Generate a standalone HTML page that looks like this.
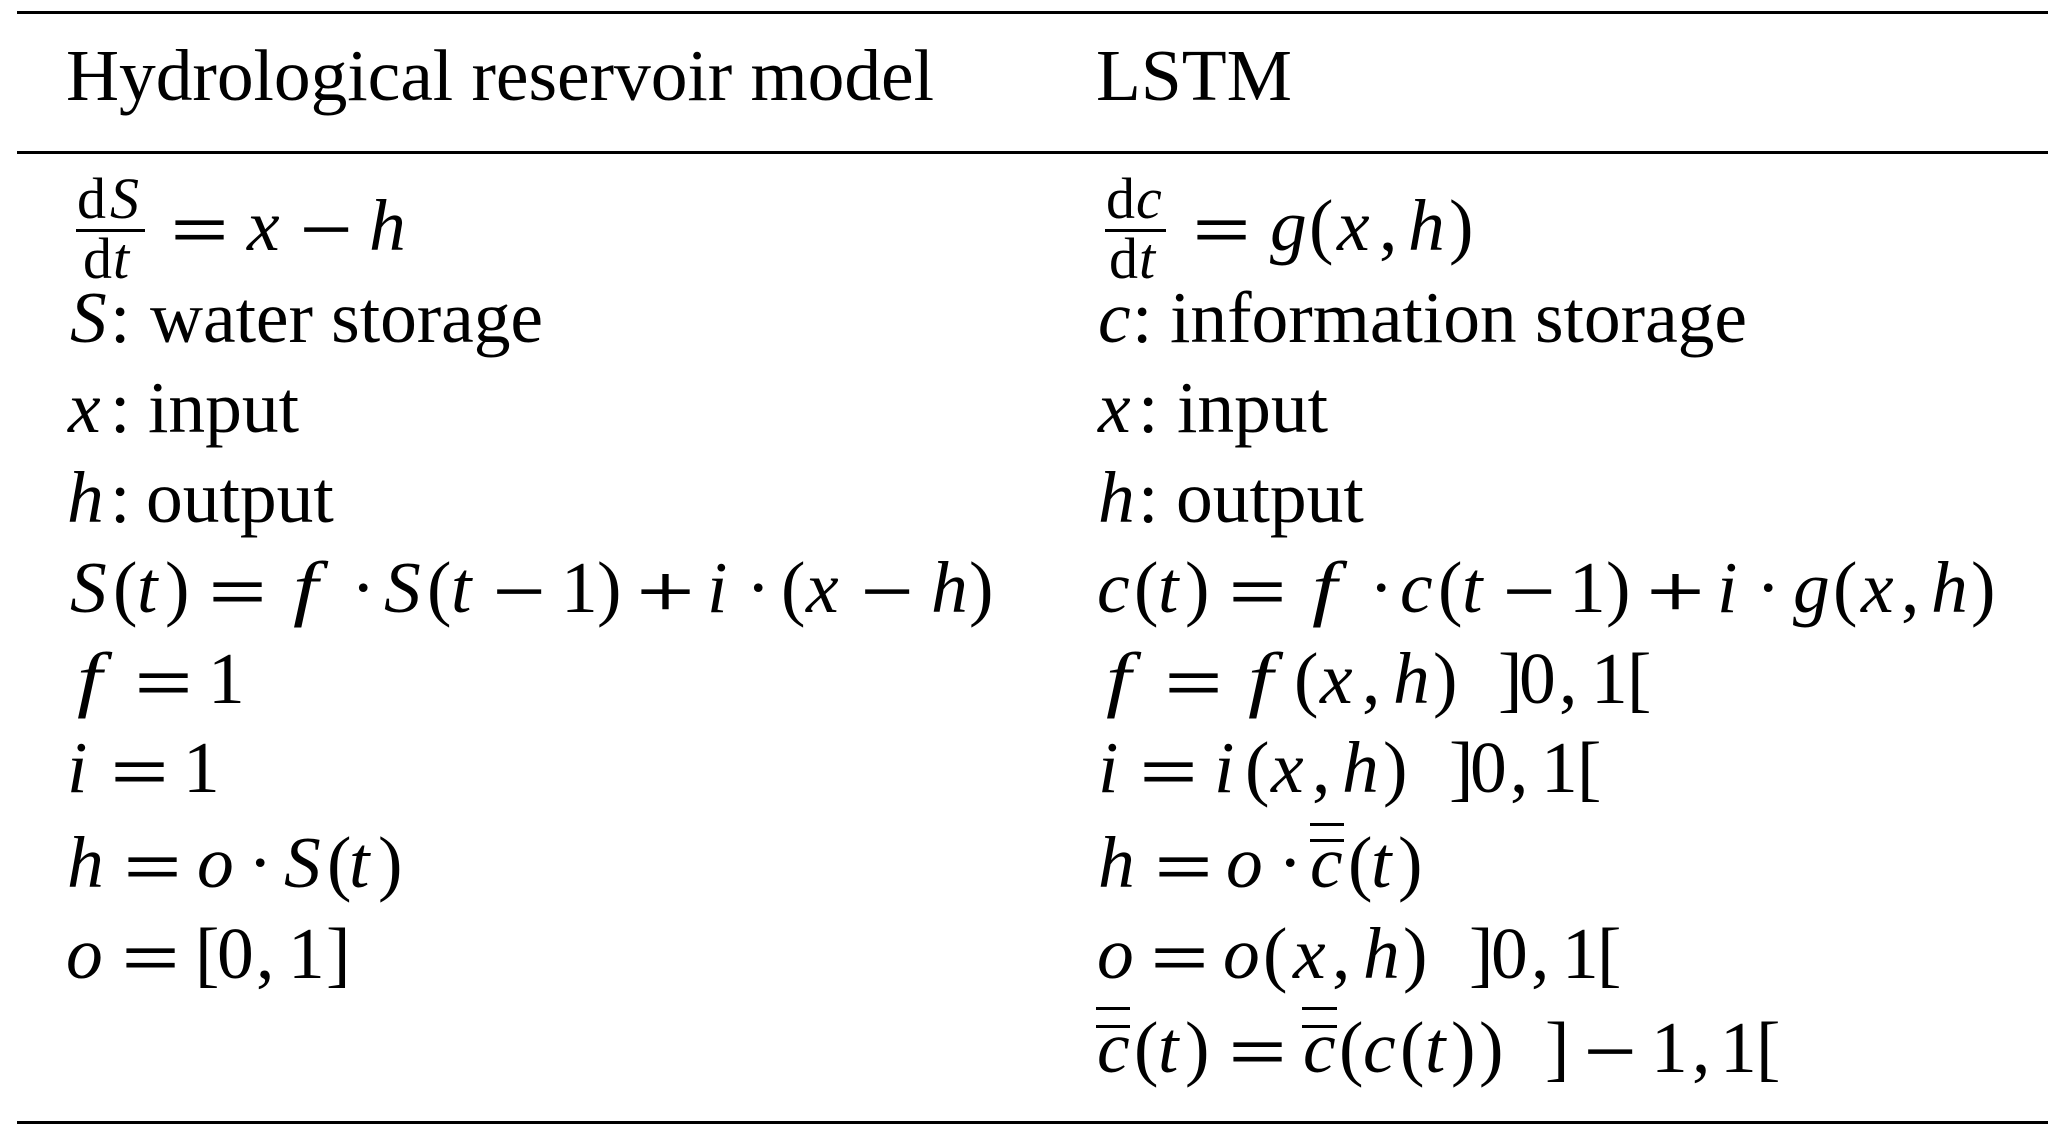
<!DOCTYPE html>
<html lang="en">
<head>
<meta charset="utf-8">
<title>Hydrological reservoir model and LSTM</title>
<style>
html,body{margin:0;padding:0;background:#fff;width:2067px;height:1137px;overflow:hidden}
svg{display:block}
text{font-family:"Liberation Serif","Times New Roman",serif;font-size:73.5px;fill:#000}
.i{font-style:italic}
.s{font-size:58px}
.b{stroke:#000;stroke-width:.9px}
</style>
</head>
<body>
<svg width="2067" height="1137" viewBox="0 0 2067 1137" xmlns="http://www.w3.org/2000/svg">
<rect width="2067" height="1137" fill="#fff"/>
<rect x="17" y="11" width="2031" height="3"/>
<rect x="17" y="151" width="2031" height="3"/>
<rect x="17" y="1121" width="2031" height="3"/>

<text x="66" y="100" textLength="868">Hydrological reservoir model</text>
<text x="1096" y="100">LSTM</text>

<!-- Left column -->
<text class="s" x="77 110" y="218">d<tspan class="i">S</tspan></text>
<rect x="76" y="229" width="69" height="3"/>
<text class="s" x="83 113" y="278">d<tspan class="i">t</tspan></text>
<text class="b" x="171" y="254" textLength="57" lengthAdjust="spacingAndGlyphs">=</text>
<text class="i" x="247" y="250">x</text>
<text class="b" x="300" y="254" textLength="52" lengthAdjust="spacingAndGlyphs">−</text>
<text class="i" x="369" y="250">h</text>

<text x="70 110" y="342"><tspan class="i">S</tspan>:</text>
<text x="150" y="342" textLength="393">water storage</text>
<text x="68 110" y="432"><tspan class="i">x</tspan>:</text>
<text x="148" y="432">input</text>
<text x="67 110" y="522"><tspan class="i">h</tspan>:</text>
<text x="146" y="522">output</text>

<text y="612" x="70 113 137 165"><tspan class="i">S</tspan>(<tspan class="i">t</tspan>)</text>
<text class="b" x="209" y="616" textLength="57" lengthAdjust="spacingAndGlyphs">=</text>
<text class="i" x="293" y="612" textLength="25" lengthAdjust="spacingAndGlyphs">f</text>
<text y="612" x="351 384 427 451">·<tspan class="i">S</tspan>(<tspan class="i">t</tspan></text>
<text class="b" x="493" y="616" textLength="52" lengthAdjust="spacingAndGlyphs">−</text>
<text y="612" x="561 597">1)</text>
<text class="b" x="637" y="616" textLength="57" lengthAdjust="spacingAndGlyphs">+</text>
<text y="612" x="707 746 781 806"><tspan class="i">i</tspan>·(<tspan class="i">x</tspan></text>
<text class="b" x="861" y="616" textLength="52" lengthAdjust="spacingAndGlyphs">−</text>
<text y="612" x="931 969"><tspan class="i">h</tspan>)</text>

<text class="i" x="77" y="703" textLength="25" lengthAdjust="spacingAndGlyphs">f</text>
<text class="b" x="135" y="707" textLength="57" lengthAdjust="spacingAndGlyphs">=</text>
<text x="208" y="703">1</text>

<text class="i" x="67" y="792">i</text>
<text class="b" x="111" y="796" textLength="57" lengthAdjust="spacingAndGlyphs">=</text>
<text x="183" y="792">1</text>

<text class="i" x="67" y="887">h</text>
<text class="b" x="124" y="891" textLength="57" lengthAdjust="spacingAndGlyphs">=</text>
<text y="887" x="197 248 284 327 349 378"><tspan class="i">o</tspan>·<tspan class="i">S</tspan>(<tspan class="i">t</tspan>)</text>

<text class="i" x="66" y="978">o</text>
<text class="b" x="122" y="982" textLength="57" lengthAdjust="spacingAndGlyphs">=</text>
<text y="978" x="195 217 256 288 326">[0,1]</text>

<!-- Right column -->
<text class="s" x="1106 1136" y="218">d<tspan class="i">c</tspan></text>
<rect x="1105" y="229" width="61" height="3"/>
<text class="s" x="1109 1139" y="278">d<tspan class="i">t</tspan></text>
<text class="b" x="1193" y="254" textLength="57" lengthAdjust="spacingAndGlyphs">=</text>
<text y="250" x="1270 1309 1337 1379 1408 1449"><tspan class="i">g</tspan>(<tspan class="i">x</tspan>,<tspan class="i">h</tspan>)</text>

<text x="1098 1132" y="342"><tspan class="i">c</tspan>:</text>
<text x="1170" y="342" textLength="577">information storage</text>
<text x="1098 1138" y="432"><tspan class="i">x</tspan>:</text>
<text x="1177" y="432">input</text>
<text x="1098 1138" y="522"><tspan class="i">h</tspan>:</text>
<text x="1176" y="522">output</text>

<text y="612" x="1097 1134 1158 1185"><tspan class="i">c</tspan>(<tspan class="i">t</tspan>)</text>
<text class="b" x="1229" y="616" textLength="57" lengthAdjust="spacingAndGlyphs">=</text>
<text class="i" x="1312" y="612" textLength="25" lengthAdjust="spacingAndGlyphs">f</text>
<text y="612" x="1369 1400 1438 1462">·<tspan class="i">c</tspan>(<tspan class="i">t</tspan></text>
<text class="b" x="1503" y="616" textLength="52" lengthAdjust="spacingAndGlyphs">−</text>
<text y="612" x="1569 1606">1)</text>
<text class="b" x="1647" y="616" textLength="57" lengthAdjust="spacingAndGlyphs">+</text>
<text y="612" x="1717 1756 1793 1833 1861 1901 1931 1971"><tspan class="i">i</tspan>·<tspan class="i">g</tspan>(<tspan class="i">x</tspan>,<tspan class="i">h</tspan>)</text>

<text class="i" x="1106" y="703" textLength="25" lengthAdjust="spacingAndGlyphs">f</text>
<text class="b" x="1165" y="707" textLength="57" lengthAdjust="spacingAndGlyphs">=</text>
<text class="i" x="1248" y="703" textLength="25" lengthAdjust="spacingAndGlyphs">f</text>
<text y="703" x="1294 1320 1362 1393 1433 1498 1519 1559 1591 1627">(<tspan class="i">x</tspan>,<tspan class="i">h</tspan>)]0,1[</text>

<text class="i" x="1098" y="792">i</text>
<text class="b" x="1140" y="796" textLength="57" lengthAdjust="spacingAndGlyphs">=</text>
<text y="792" x="1214 1245 1271 1312 1342 1383 1449 1470 1510 1541 1577"><tspan class="i">i</tspan>(<tspan class="i">x</tspan>,<tspan class="i">h</tspan>)]0,1[</text>

<text class="i" x="1098" y="887">h</text>
<text class="b" x="1155" y="891" textLength="57" lengthAdjust="spacingAndGlyphs">=</text>
<text y="887" x="1226 1278 1310 1348 1371 1398"><tspan class="i">o</tspan>·<tspan class="i">c</tspan>(<tspan class="i">t</tspan>)</text>
<rect x="1310" y="823" width="34" height="3"/>
<rect x="1310" y="839" width="34" height="3"/>

<text class="i" x="1097" y="978">o</text>
<text class="b" x="1151" y="982" textLength="57" lengthAdjust="spacingAndGlyphs">=</text>
<text y="978" x="1223 1263 1293 1332 1363 1403 1469 1491 1531 1562 1597"><tspan class="i">o</tspan>(<tspan class="i">x</tspan>,<tspan class="i">h</tspan>)]0,1[</text>

<text y="1072" x="1097 1134 1158 1185"><tspan class="i">c</tspan>(<tspan class="i">t</tspan>)</text>
<rect x="1096" y="1007" width="34" height="3"/>
<rect x="1096" y="1025" width="34" height="3"/>
<text class="b" x="1229" y="1076" textLength="57" lengthAdjust="spacingAndGlyphs">=</text>
<text y="1072" x="1303 1339 1363 1400 1425 1451 1479"><tspan class="i">c</tspan>(<tspan class="i">c</tspan>(<tspan class="i">t</tspan>))</text>
<rect x="1302" y="1007" width="35" height="3"/>
<rect x="1302" y="1025" width="35" height="3"/>
<text x="1545" y="1072">]</text>
<text class="b" x="1584" y="1076" textLength="52" lengthAdjust="spacingAndGlyphs">−</text>
<text y="1072" x="1651 1692 1720 1756">1,1[</text>
</svg>
</body>
</html>
